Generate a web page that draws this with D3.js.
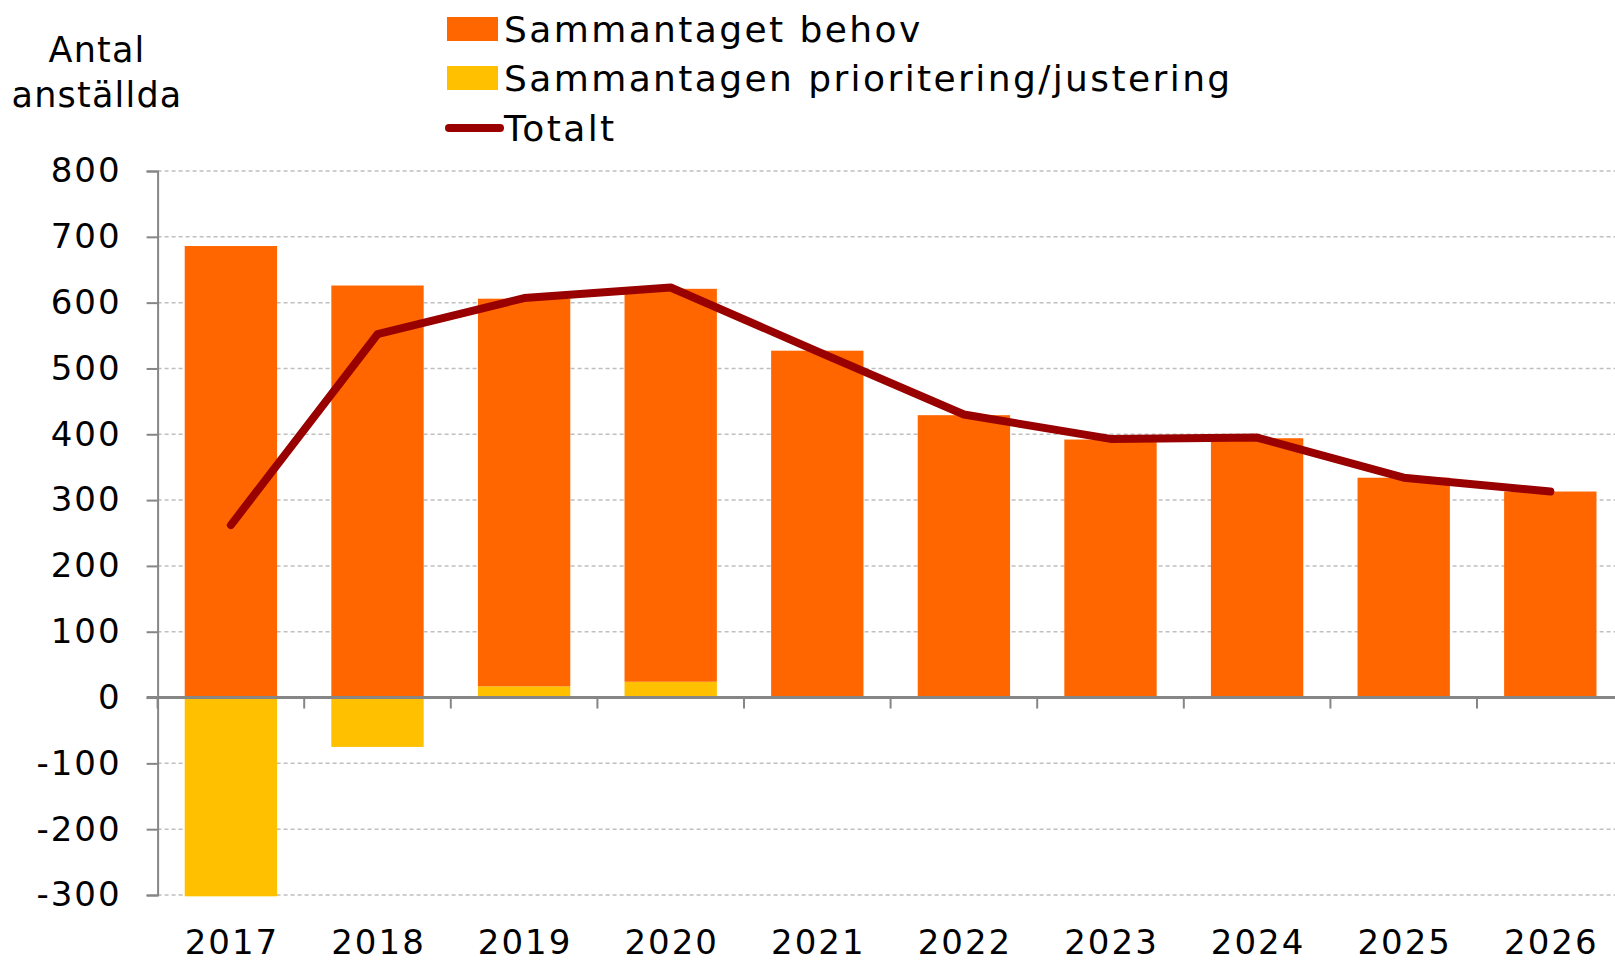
<!DOCTYPE html>
<meta charset="utf-8">
<script src="https://d3js.org/d3.v7.min.js"></script>
<style>
  body { margin: 0; background: #fff; }
  text { font-family: "DejaVu Sans", Verdana, sans-serif; fill: #000; }
</style>
<div id="chart"></div>
<script>

  // data
  const years = ["2017","2018","2019","2020","2021","2022","2023","2024","2025","2026"];
  const behov = [686, 626, 589, 597, 527, 429, 392, 394, 334, 313];
  const justering = [-302, -75, 17, 24, 0, 0, 0, 0, 0, 0];
  const totalt = [262, 552, 607, 623, 526, 430, 393, 395, 334, 313];
  const yTicks = [-300, -200, -100, 0, 100, 200, 300, 400, 500, 600, 700, 800];
  const legendLabels = ["Sammantaget behov", "Sammantagen prioritering/justering", "Totalt"];

  const width = 1615, height = 963;
  const left = 157.6, right = 1623.6;

  const svg = d3.select("#chart").append("svg")
      .attr("width", width)
      .attr("height", height);

  const x = d3.scaleBand()
      .domain(years)
      .range([left, right])
      .paddingInner(0.37)
      .paddingOuter(0.185);

  const y = d3.scaleLinear()
      .domain([-300, 800])
      .range([895, 171]);

  // gridlines
  svg.append("g")
    .selectAll("line")
    .data(yTicks.filter(d => d !== 0))
    .join("line")
      .attr("x1", left).attr("x2", width)
      .attr("y1", d => y(d)).attr("y2", d => y(d))
      .attr("stroke", "#bfbfbf")
      .attr("stroke-width", 1.5)
      .attr("stroke-dasharray", "4,3");

  // stacked bars
  const rows = years.map((yr, i) => ({year: yr, justering: justering[i], behov: behov[i]}));
  const stack = d3.stack()
      .keys(["justering", "behov"])
      .offset(d3.stackOffsetDiverging);
  const colors = {behov: "#ff6600", justering: "#ffc000"};

  svg.append("g")
    .selectAll("g")
    .data(stack(rows))
    .join("g")
      .attr("fill", d => colors[d.key])
    .selectAll("rect")
    .data(d => d)
    .join("rect")
      .attr("x", d => x(d.data.year))
      .attr("width", x.bandwidth())
      .attr("y", d => y(Math.max(d[0], d[1])))
      .attr("height", d => Math.abs(y(d[0]) - y(d[1])));

  // y axis
  const yAxis = svg.append("g")
      .attr("transform", `translate(${left},0)`)
      .call(d3.axisLeft(y).tickValues(yTicks).tickSize(11).tickPadding(25).tickFormat(d => String(d)));
  yAxis.select(".domain").attr("stroke", "#868686").attr("stroke-width", 2);
  yAxis.selectAll(".tick line").attr("stroke", "#868686").attr("stroke-width", 2);
  yAxis.selectAll(".tick text")
      .style("font-family", "'DejaVu Sans', Verdana, sans-serif")
      .style("font-size", "34px")
      .style("letter-spacing", "2px")
      .attr("fill", "#000");

  // x axis at zero
  svg.append("line")
      .attr("x1", left - 11).attr("x2", width)
      .attr("y1", y(0)).attr("y2", y(0))
      .attr("stroke", "#868686")
      .attr("stroke-width", 3);

  const step = x.step();
  svg.append("g")
    .selectAll("line")
    .data(d3.range(0, years.length))
    .join("line")
      .attr("x1", i => left + i * step).attr("x2", i => left + i * step)
      .attr("y1", y(0)).attr("y2", y(0) + 11)
      .attr("stroke", "#868686")
      .attr("stroke-width", 2);

  svg.append("g")
    .selectAll("text")
    .data(years)
    .join("text")
      .attr("x", d => x(d) + x.bandwidth() / 2 + 1)
      .attr("y", 954)
      .attr("text-anchor", "middle")
      .style("font-size", "34px")
      .style("letter-spacing", "2px")
      .text(d => d);

  // total line
  const line = d3.line()
      .x((d, i) => x(years[i]) + x.bandwidth() / 2)
      .y(d => y(d));
  svg.append("path")
      .datum(totalt)
      .attr("fill", "none")
      .attr("stroke", "#990000")
      .attr("stroke-width", 8)
      .attr("stroke-linecap", "round")
      .attr("stroke-linejoin", "round")
      .attr("d", line);

  // y title
  svg.append("text")
      .attr("x", 97).attr("y", 62)
      .attr("text-anchor", "middle")
      .style("font-size", "35px")
      .style("letter-spacing", "1.2px")
      .text("Antal");
  svg.append("text")
      .attr("x", 97).attr("y", 107)
      .attr("text-anchor", "middle")
      .style("font-size", "35px")
      .style("letter-spacing", "1.2px")
      .text("anställda");

  // legend
  const legend = svg.append("g").attr("transform", "translate(447,0)");
  const rowY = [29, 78, 128];
  legend.append("rect").attr("x", 0).attr("y", rowY[0] - 12).attr("width", 51).attr("height", 24).attr("fill", colors.behov);
  legend.append("rect").attr("x", 0).attr("y", rowY[1] - 12).attr("width", 51).attr("height", 24).attr("fill", colors.justering);
  legend.append("line").attr("x1", 2).attr("x2", 53).attr("y1", rowY[2]).attr("y2", rowY[2])
      .attr("stroke", "#990000").attr("stroke-width", 8).attr("stroke-linecap", "round");
  legend.selectAll("text.lbl")
    .data(legendLabels)
    .join("text")
      .attr("class", "lbl")
      .attr("x", 57)
      .attr("y", (d, i) => rowY[i])
      .attr("dy", "0.36em")
      .style("font-size", "36px")
      .style("letter-spacing", "2.4px")
      .text(d => d);

</script>
